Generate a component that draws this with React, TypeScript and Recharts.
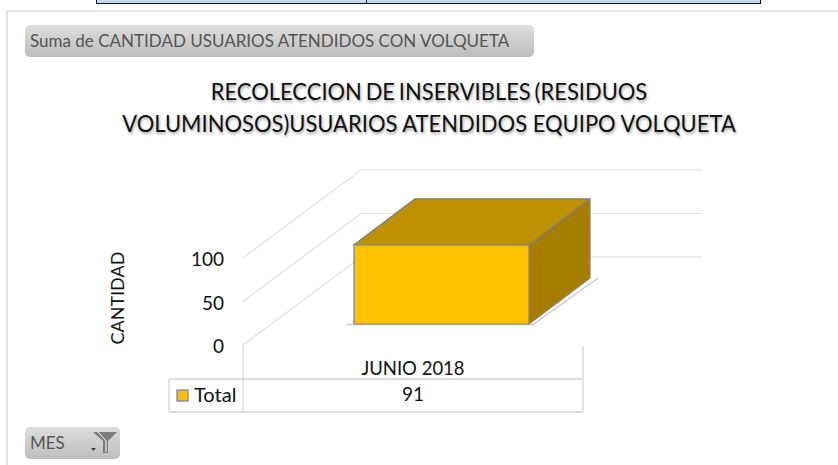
import { Bar, BarChart, CartesianGrid, XAxis, YAxis } from 'recharts';

const categories = ['JUNIO 2018'];
const totals = [91];
const yTicks = [0, 50, 100];
const seriesName = 'Total';
const yAxisName = 'CANTIDAD';
const titleLines = ['RECOLECCION DE INSERVIBLES (RESIDUOS', 'VOLUMINOSOS)USUARIOS ATENDIDOS EQUIPO VOLQUETA'];
const fieldLabel = 'Suma de CANTIDAD USUARIOS ATENDIDOS CON VOLQUETA';
const filterLabel = 'MES';

const data = categories.map((name, i) => ({ name, value: totals[i] }));

const FONT = 'Lato, "Open Sans", sans-serif';
const GRID_COLOR = '#e0e0e0';
const TABLE_COLOR = '#d4d4d4';
const EDGE = '#84807a';

// oblique offsets of the fake 3D floor
const WALL_DX = 118;
const WALL_DY = -88;
const BAR_DX = 28;
const BAR_DY = -21;
const DEPTH_DX = 61;
const DEPTH_DY = -46;
const WALL_RIGHT = 702;

const gridLine = (props: any) => {
  const { x1, y1, index } = props;
  const bx = x1 + WALL_DX;
  const by = y1 + WALL_DY;
  return (
    <path
      key={`grid-${index}`}
      d={`M${x1},${y1} L${bx},${by} L${WALL_RIGHT},${by}`}
      fill="none"
      stroke={GRID_COLOR}
      strokeWidth={1.2}
    />
  );
};

const Box3D = (props: any) => {
  const { x, y, width, height } = props;
  const l = x + BAR_DX;
  const t = y + BAR_DY;
  const r = l + width;
  const b = t + height;
  return (
    <g stroke={EDGE} strokeWidth={1.2} strokeLinejoin="round">
      <path d={`M${l - 8},${b + 0.5} L${r + 4},${b + 0.5} L${r + DEPTH_DX + 8},${b + DEPTH_DY}`} fill="none" stroke="#c9c9c9" strokeWidth={1.5} />
      <path d={`M${l},${t} L${l + DEPTH_DX},${t + DEPTH_DY} L${r + DEPTH_DX},${t + DEPTH_DY} L${r},${t} Z`} fill="#bf9000" />
      <path d={`M${r},${t} L${r + DEPTH_DX},${t + DEPTH_DY} L${r + DEPTH_DX},${b + DEPTH_DY} L${r},${b} Z`} fill="#a67d00" />
      <rect x={l} y={t} width={width} height={height} fill="#ffc000" />
    </g>
  );
};

const TableTick = (props: any) => {
  const { x, payload, index } = props;
  const rowTop = 379;
  const rowBottom = 412;
  const left = 243;
  const right = 583;
  return (
    <g fontFamily={FONT} fill="#111">
      <path
        d={`M${left},345 V${rowBottom} M${right},346 V${rowBottom} M169,${rowTop} H${right} M169,${rowBottom} H${right} M169,${rowTop} V${rowBottom}`}
        stroke={TABLE_COLOR}
        strokeWidth={1.3}
        fill="none"
      />
      <text x={x} y={375} textAnchor="middle" fontSize={18.5}>
        {payload.value}
      </text>
      <text x={x} y={401} textAnchor="middle" fontSize={19}>
        {totals[index ?? 0]}
      </text>
      <rect x={177} y={390} width={11} height={11} fill="#ffc000" stroke="#6f7fa8" strokeWidth={1.2} />
      <text x={194} y={402} fontSize={20}>
        {seriesName}
      </text>
    </g>
  );
};

const YTick = (props: any) => {
  const { x, y, payload } = props;
  return (
    <text x={x - 3} y={y + 8} textAnchor="end" fontFamily={FONT} fontSize={19} fill="#111">
      {payload.value}
    </text>
  );
};

const buttonStyle: React.CSSProperties = {
  position: 'absolute',
  boxSizing: 'border-box',
  background: 'linear-gradient(#dedede, #bdbdbd)',
  borderRadius: 5,
  color: '#555',
  fontFamily: FONT,
  whiteSpace: 'nowrap',
};

const titleStyle: React.CSSProperties = {
  position: 'absolute',
  left: 0,
  width: 858,
  textAlign: 'center',
  fontFamily: FONT,
  fontSize: 24,
  color: '#111',
  whiteSpace: 'nowrap',
  transform: 'scaleX(0.915)',
  transformOrigin: '429px 0',
  textShadow: '1px 2px 3px rgba(0,0,0,0.35)',
};

export default function App() {
  return (
    <div style={{ position: 'absolute', left: 0, top: 0, width: 838, height: 465, background: '#fff', overflow: 'hidden' }}>
      {/* cut off table above the chart */}
      <div style={{ position: 'absolute', left: 96, top: -4, width: 665, height: 8, background: '#c6d9ec', border: '1px solid #111', boxSizing: 'border-box' }} />
      <div style={{ position: 'absolute', left: 366, top: 0, width: 1, height: 4, background: '#111' }} />
      {/* panel frame */}
      <div style={{ position: 'absolute', left: 6, top: 10, width: 840, height: 470, borderLeft: '2px solid #e2e2e2', borderTop: '2px solid #e2e2e2', boxSizing: 'border-box' }} />

      <div style={{ position: 'absolute', left: 0, top: 0 }}>
        <BarChart
          width={838}
          height={465}
          data={data}
          margin={{ top: 258, right: 255, bottom: 90, left: 183 }}
        >
          <CartesianGrid vertical={false} horizontal={gridLine} />
          <XAxis dataKey="name" height={30} axisLine={false} tickLine={false} tick={<TableTick />} interval={0} />
          <YAxis
            type="number"
            domain={[0, 100]}
            ticks={yTicks}
            axisLine={false}
            tickLine={false}
            tick={<YTick />}
            width={60}
            tickMargin={10}
            label={{ value: yAxisName, angle: -90, position: 'insideLeft', offset: -65, dy: 43, fontFamily: FONT, fontSize: 18, fill: '#111' }}
          />
          <Bar dataKey="value" barSize={175} shape={<Box3D />} isAnimationActive={false} />
        </BarChart>
      </div>

      {titleLines.map((line, i) => (
        <div key={line} style={{ ...titleStyle, top: 76 + i * 32, wordSpacing: i === 0 ? -2 : 0 }}>
          {line}
        </div>
      ))}

      <div style={{ ...buttonStyle, left: 25, top: 25, width: 509, height: 32, fontSize: 17, lineHeight: '32px', paddingLeft: 5 }}>
        {fieldLabel}
      </div>
      <div style={{ ...buttonStyle, left: 25, top: 427, width: 95, height: 32, fontSize: 17, lineHeight: '32px', paddingLeft: 5 }}>
        {filterLabel}
        <svg width={30} height={26} style={{ position: 'absolute', left: 62, top: 3 }}>
          <path d="M6,2 H30 L21,11 V23 H16 V11 Z" fill="#7d7d7d" />
          <path d="M11,2 L19,11 V22" stroke="#fff" strokeWidth={1} fill="none" />
          <path d="M4,18 H9 L6.5,21 Z" fill="#444" />
        </svg>
      </div>
    </div>
  );
}
